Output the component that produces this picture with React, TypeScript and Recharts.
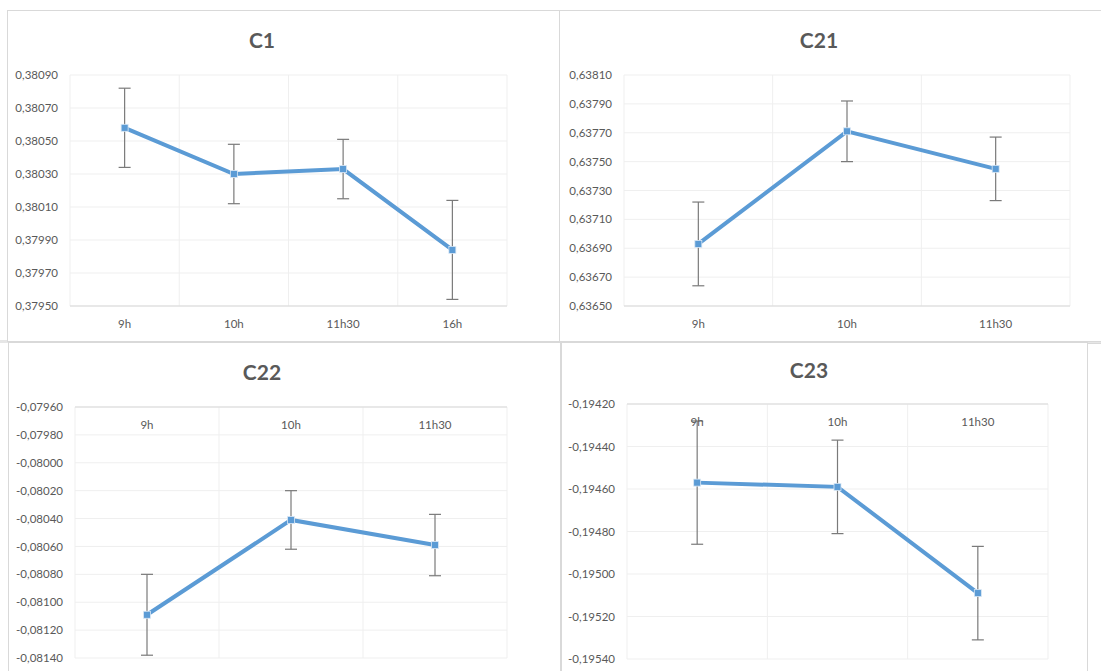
import { LineChart, Line, XAxis, YAxis, CartesianGrid, ErrorBar } from 'recharts';

// C1
const c1Cats = ['9h', '10h', '11h30', '16h'];
const c1Values = [0.38058, 0.3803, 0.38033, 0.37984];
const c1Errors = [0.00024, 0.00018, 0.00018, 0.0003];
const c1Ticks = [0.3795, 0.3797, 0.3799, 0.3801, 0.3803, 0.3805, 0.3807, 0.3809];

// C21
const c21Cats = ['9h', '10h', '11h30'];
const c21Values = [0.63693, 0.63771, 0.63745];
const c21Errors = [0.00029, 0.00021, 0.00022];
const c21Ticks = [0.6365, 0.6367, 0.6369, 0.6371, 0.6373, 0.6375, 0.6377, 0.6379, 0.6381];

// C22
const c22Cats = ['9h', '10h', '11h30'];
const c22Values = [-0.08109, -0.08041, -0.08059];
const c22Errors = [0.00029, 0.00021, 0.00022];
const c22Ticks = [-0.0814, -0.0812, -0.081, -0.0808, -0.0806, -0.0804, -0.0802, -0.08, -0.0798, -0.0796];

// C23
const c23Cats = ['9h', '10h', '11h30'];
const c23Values = [-0.19457, -0.19459, -0.19509];
const c23Errors = [0.00029, 0.00022, 0.00022];
const c23Ticks = [-0.1954, -0.1952, -0.195, -0.1948, -0.1946, -0.1944, -0.1942];

const BLUE = '#5b9bd5';
const TEXT = '#595959';
const GRID = '#efefef';
const FONT = 'Lato, "Open Sans", sans-serif';

const fmt = (v: number) => v.toFixed(5).replace('.', ',');

interface PanelProps {
  title: string;
  cats: string[];
  values: number[];
  errors: number[];
  ticks: number[];
  plot: { x: number; y: number; w: number; h: number };
  titlePos: { x: number; y: number };
  xTop?: boolean;
}

function SquareDot(props: any) {
  const { cx, cy } = props;
  if (cx == null || cy == null) return null;
  return <rect x={cx - 3.5} y={cy - 3.5} width={7} height={7} fill={BLUE} stroke="#dbe8f5" strokeWidth={0.8} />;
}

function Panel({ title, cats, values, errors, ticks, plot, titlePos, xTop }: PanelProps) {
  const data = cats.map((c, i) => ({ cat: c, v: values[i], err: errors[i] }));
  const n = cats.length;
  const yAxisW = 70;
  return (
    <>
      <div
        style={{
          position: 'absolute',
          left: titlePos.x - 60,
          top: titlePos.y - 13,
          width: 120,
          lineHeight: '26px',
          textAlign: 'center',
          fontFamily: FONT,
          fontWeight: 700,
          fontSize: 21,
          color: TEXT,
        }}
      >
        {title}
      </div>
      <div style={{ position: 'absolute', left: plot.x - yAxisW, top: plot.y - 10 }}>
        <LineChart
          width={plot.w + yAxisW + 10}
          height={plot.h + 50}
          data={data}
          margin={{ top: 10, right: 10, left: 0, bottom: xTop ? 40 : 0 }}
        >
          <CartesianGrid
            stroke={GRID}
            verticalCoordinatesGenerator={({ offset }: any) =>
              Array.from({ length: n + 1 }, (_, i) => offset.left + (i * offset.width) / n)
            }
          />
          <XAxis
            dataKey="cat"
            scale="band"
            orientation={xTop ? 'top' : 'bottom'}
            mirror={xTop}
            height={40}
            tickLine={false}
            tickMargin={8}
            axisLine={{ stroke: '#d9d9d9' }}
            tick={{ fill: TEXT, fontSize: 11.5, fontFamily: FONT }}
          />
          <YAxis
            type="number"
            domain={[ticks[0], ticks[ticks.length - 1]]}
            ticks={ticks}
            interval={0}
            allowDataOverflow
            width={yAxisW}
            axisLine={false}
            tickLine={false}
            tickMargin={6}
            tickFormatter={fmt}
            tick={{ fill: TEXT, fontSize: 11.5, fontFamily: FONT }}
          />
          <Line
            dataKey="v"
            stroke={BLUE}
            strokeWidth={4}
            dot={<SquareDot />}
            activeDot={false}
            isAnimationActive={false}
          >
            <ErrorBar dataKey="err" direction="y" width={6} stroke="#7a7a7a" strokeWidth={1.2} isAnimationActive={false} />
          </Line>
        </LineChart>
      </div>
    </>
  );
}

const frame = (left: number, top: number, width: number, height: number) => (
  <div
    style={{
      position: 'absolute',
      left,
      top,
      width,
      height,
      border: '1px solid #d9d9d9',
      background: '#fff',
      boxSizing: 'border-box',
    }}
  />
);

export default function App() {
  return (
    <div
      style={{
        position: 'absolute',
        left: 0,
        top: 0,
        width: 1101,
        height: 671,
        overflow: 'hidden',
        background: '#fff',
      }}
    >
      <div style={{ position: 'absolute', left: 0, top: 340, width: 1101, height: 3, background: '#e6e6e6' }} />
      {frame(7, 10, 553, 332)}
      {frame(559, 10, 560, 332)}
      {frame(8, 342, 553, 340)}
      {frame(561, 342, 527, 340)}
      {frame(1087, 343, 30, 340)}
      <Panel
        title="C1"
        cats={c1Cats}
        values={c1Values}
        errors={c1Errors}
        ticks={c1Ticks}
        plot={{ x: 70, y: 75, w: 437, h: 231 }}
        titlePos={{ x: 262, y: 40 }}
      />
      <Panel
        title="C21"
        cats={c21Cats}
        values={c21Values}
        errors={c21Errors}
        ticks={c21Ticks}
        plot={{ x: 624, y: 75, w: 446, h: 231 }}
        titlePos={{ x: 819, y: 40 }}
      />
      <Panel
        title="C22"
        cats={c22Cats}
        values={c22Values}
        errors={c22Errors}
        ticks={c22Ticks}
        plot={{ x: 75, y: 407, w: 432, h: 251 }}
        titlePos={{ x: 262, y: 372 }}
        xTop
      />
      <Panel
        title="C23"
        cats={c23Cats}
        values={c23Values}
        errors={c23Errors}
        ticks={c23Ticks}
        plot={{ x: 627, y: 404, w: 421, h: 255 }}
        titlePos={{ x: 809, y: 370 }}
        xTop
      />
    </div>
  );
}
